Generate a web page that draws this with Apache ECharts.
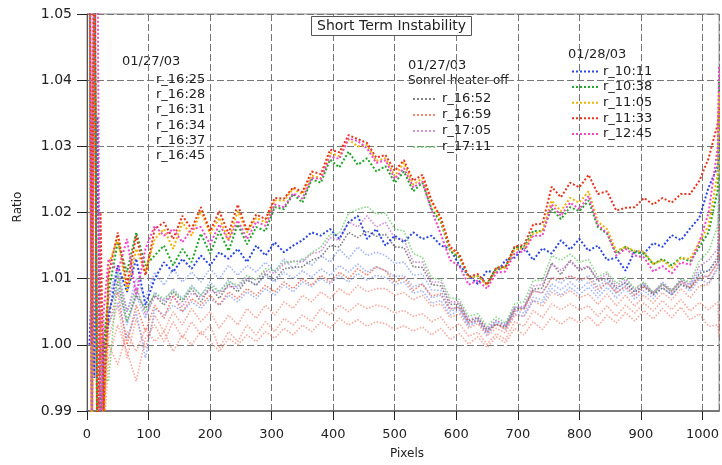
<!DOCTYPE html>
<html><head><meta charset="utf-8">
<script src="https://cdn.jsdelivr.net/npm/echarts@6/dist/echarts.min.js"></script>
<style>html,body{margin:0;padding:0;background:#fff}#c{width:722px;height:465px}</style>
</head><body><div id="c"></div>
<script>
const PIXELS = [4,8,12,17,22,27,35,50,65,80,95,110,125,140,155,170,185,200,215,230,245,260,275,290,305,320,335,350,365,380,395,410,425,440,455,470,485,500,515,530,545,560,575,590,605,620,635,650,665,680,695,710,725,740,755,770,785,800,815,830,845,860,875,890,905,920,935,950,965,980,995,1010,1025,1027];
const X_TICKS = [0,100,200,300,400,500,600,700,800,900,1000];
const Y_TICKS = ['0.99','1.00','1.01','1.02','1.03','1.04','1.05'];

// 01/27/03
const r_16_25 = [1.07,0.975,1.06,0.98,0.995,0.99, 1.001,1.006,0.998,1.004,0.9995,1.0045,1.002,1.005,1.003,1.0055,1.0035,1.005,1.0025,1.0045,1.003,1.0055,1.004,1.006,1.0045,1.0065,1.0055,1.0075,1.0065,1.008,1.007,1.0085,1.0075,1.009,1.008,1.0085,1.0085,1.0075,1.0079,1.0068,1.0075,1.0058,1.0062,1.0041,1.0047,1.0025,1.0032,1.0013,1.0025,1.0018,1.0045,1.0043,1.0067,1.0058,1.0079,1.0073,1.0082,1.0071,1.0077,1.0061,1.0077,1.0059,1.0075,1.0058,1.0075,1.0063,1.0079,1.0068,1.0085,1.0071,1.0089,1.0091,1.012,1.014];
const r_16_28 = [1.06,0.985,1.065,0.98,1.0,0.995, 1.007,1.012,1.005,1.010,1.007,1.011,1.009,1.0115,1.0095,1.011,1.0095,1.0115,1.010,1.012,1.0105,1.012,1.011,1.0125,1.011,1.013,1.0115,1.013,1.012,1.0135,1.0125,1.0145,1.013,1.0148,1.0135,1.014,1.0135,1.0123,1.0125,1.0105,1.0107,1.0083,1.0082,1.0055,1.0057,1.0033,1.0039,1.0021,1.0037,1.0031,1.0057,1.0055,1.0082,1.0078,1.0102,1.0093,1.0105,1.0095,1.0105,1.0088,1.0099,1.0083,1.0095,1.0079,1.0092,1.0079,1.0095,1.0083,1.01,1.0091,1.0112,1.0111,1.0135,1.016];
const r_16_31 = [1.06,0.98,1.07,0.975,1.005,0.985, 0.998,1.003,0.999,0.9945,1.001,1.003,1.0005,1.0035,1.001,1.0035,1.0015,1.003,0.9995,1.002,1.0005,1.003,1.0015,1.0035,1.002,1.004,1.003,1.0045,1.0035,1.0055,1.0045,1.006,1.005,1.0062,1.0055,1.006,1.0057,1.0048,1.0052,1.0043,1.0047,1.0035,1.0042,1.0023,1.0032,1.0013,1.0019,1.0001,1.0017,1.0008,1.0035,1.0028,1.0052,1.0041,1.0062,1.0053,1.0062,1.0053,1.0059,1.0043,1.0059,1.0043,1.006,1.0048,1.0063,1.0051,1.0067,1.0053,1.0069,1.0051,1.0064,1.0053,1.0065,1.002];
const r_16_34 = [1.065,0.98,1.06,0.985,0.99,1.0, 1.005,1.0085,1.003,1.0075,1.004,1.008,1.0065,1.0085,1.007,1.009,1.0075,1.0095,1.008,1.0098,1.0085,1.010,1.009,1.0105,1.0095,1.011,1.010,1.0112,1.0102,1.0115,1.0105,1.012,1.011,1.0122,1.011,1.0118,1.0112,1.0103,1.0105,1.0088,1.0092,1.0071,1.0075,1.0051,1.0055,1.0031,1.0037,1.0018,1.0035,1.0028,1.0052,1.0048,1.0072,1.0068,1.0092,1.0083,1.0095,1.0083,1.0095,1.0078,1.0095,1.0078,1.009,1.0075,1.0087,1.0075,1.0092,1.0081,1.0097,1.0085,1.0105,1.0103,1.0125,1.015];
const r_16_37 = [1.065,0.99,1.06,0.97,0.99,1.0, 1.0,0.997,1.002,0.999,1.0025,1.0005,1.002,0.999,1.0015,1.0,1.002,1.0005,0.999,1.001,1.0,1.0015,1.0005,1.002,1.001,1.0025,1.0015,1.003,1.002,1.0035,1.0025,1.004,1.003,1.0038,1.0028,1.0035,1.0032,1.0023,1.0029,1.0021,1.0027,1.0015,1.0025,1.0008,1.0017,1.0001,1.0012,0.9996,1.0012,1.0003,1.0025,1.0015,1.0035,1.0023,1.0042,1.0031,1.0042,1.0033,1.0043,1.0028,1.0045,1.0033,1.0049,1.0036,1.0052,1.0039,1.0055,1.0041,1.0057,1.0038,1.0047,1.0028,1.003,1.001];
const r_16_45 = [1.06,0.985,1.065,0.98,0.985,0.995, 1.003,1.0065,1.001,1.005,0.998,1.0055,1.0045,1.006,1.005,1.0065,1.0055,1.007,1.006,1.0075,1.0065,1.008,1.007,1.0085,1.0075,1.009,1.008,1.0095,1.0088,1.010,1.0092,1.0105,1.0095,1.0108,1.0098,1.0105,1.0102,1.0091,1.0095,1.0078,1.0082,1.0063,1.0067,1.0045,1.0052,1.0028,1.0035,1.0015,1.0032,1.0023,1.0047,1.0043,1.0067,1.0063,1.0085,1.0075,1.0087,1.0076,1.0087,1.0071,1.0087,1.0071,1.0085,1.0069,1.0082,1.007,1.0087,1.0075,1.0092,1.0081,1.0099,1.0093,1.0115,1.013];

// 01/27/03 Sonrel heater off
const r_16_52 = [1.06,1.0,1.065,0.985,1.0,0.992, 1.005,1.0095,1.0035,1.0075,1.0055,1.0075,1.006,1.008,1.0065,1.0085,1.0065,1.0088,1.007,1.0092,1.008,1.0098,1.009,1.0108,1.0098,1.0115,1.0117,1.0118,1.0128,1.0133,1.015,1.0148,1.017,1.0162,1.0172,1.0164,1.0167,1.0148,1.0147,1.0118,1.0117,1.0091,1.0089,1.0061,1.0062,1.0036,1.0041,1.0023,1.0031,1.0027,1.0054,1.0056,1.0084,1.0086,1.0124,1.0106,1.0128,1.0112,1.0118,1.0096,1.0101,1.0086,1.0094,1.008,1.0089,1.0076,1.0086,1.0076,1.0091,1.0086,1.0108,1.0112,1.013,1.022];
const r_16_59 = [1.07,0.99,1.06,0.98,1.005,0.99, 1.003,1.008,1.0,1.006,1.002,1.006,1.004,1.0075,1.005,1.007,1.006,1.0075,1.006,1.008,1.007,1.0085,1.0075,1.009,1.008,1.0095,1.0085,1.010,1.009,1.0105,1.0095,1.011,1.010,1.0115,1.0105,1.0118,1.0112,1.0094,1.0102,1.0082,1.0092,1.0074,1.0077,1.0054,1.0057,1.0034,1.0036,1.0019,1.0031,1.0024,1.0051,1.0054,1.0081,1.0079,1.0101,1.0099,1.0104,1.0099,1.0101,1.0084,1.0094,1.0079,1.0088,1.0074,1.0088,1.0079,1.0091,1.0082,1.0096,1.0086,1.0101,1.0104,1.0125,1.018];
const r_17_05 = [1.065,0.995,1.07,0.98,0.99,1.0, 1.007,1.0105,1.005,1.0088,1.0045,1.0072,1.0068,1.0072,1.0058,1.0078,1.0072,1.0082,1.0078,1.0088,1.0088,1.0102,1.0098,1.0112,1.0108,1.0122,1.0127,1.0125,1.0138,1.0141,1.0162,1.0158,1.0186,1.0178,1.0195,1.0178,1.0185,1.0161,1.0159,1.0125,1.0125,1.0095,1.0095,1.0065,1.0065,1.0038,1.0042,1.0025,1.0037,1.0029,1.0057,1.0058,1.0089,1.0091,1.0122,1.0113,1.0125,1.0115,1.0119,1.0098,1.0107,1.0089,1.0099,1.0083,1.0094,1.0078,1.0092,1.0079,1.0097,1.0091,1.0119,1.0128,1.0145,1.024];
const r_17_11 = [1.06,0.985,1.065,0.98,0.975,0.995, 0.9945,1.011,1.0035,1.0085,1.005,1.0078,1.007,1.0082,1.0068,1.0088,1.0075,1.009,1.008,1.0095,1.009,1.0105,1.0098,1.0115,1.0112,1.0125,1.0125,1.0128,1.0139,1.0148,1.0167,1.0168,1.0199,1.0205,1.0209,1.0198,1.0199,1.0175,1.0172,1.0138,1.0132,1.0101,1.0099,1.0071,1.0069,1.0043,1.0047,1.0028,1.0042,1.0033,1.0062,1.0065,1.0097,1.0098,1.0135,1.0128,1.0137,1.0125,1.0129,1.0103,1.011,1.0093,1.0102,1.0085,1.0095,1.0079,1.0092,1.0081,1.0099,1.0095,1.0127,1.0141,1.018,1.028];

// 01/28/03
const r_10_11 = [1.0,1.01,0.995,1.0345,0.98,0.998, 1.004,1.012,1.008,1.013,1.006,1.010,1.0125,1.011,1.013,1.0115,1.0135,1.012,1.014,1.013,1.0145,1.0125,1.015,1.0135,1.0155,1.014,1.015,1.0158,1.017,1.0165,1.0175,1.016,1.0185,1.0195,1.016,1.0175,1.015,1.0165,1.0155,1.017,1.016,1.0165,1.015,1.0145,1.012,1.0105,1.0092,1.0112,1.0108,1.0128,1.0132,1.0148,1.0128,1.0146,1.0138,1.0158,1.0144,1.016,1.0142,1.015,1.0128,1.0132,1.0112,1.0142,1.0138,1.0154,1.0148,1.0166,1.0158,1.0176,1.0192,1.0238,1.027,1.031];
const r_10_38 = [1.06,0.98,1.07,0.975,0.985,1.0, 1.008,1.0155,1.011,1.017,1.012,1.0135,1.015,1.012,1.0145,1.0125,1.0168,1.0138,1.0172,1.0142,1.0182,1.0152,1.0178,1.0172,1.0208,1.0205,1.0228,1.0215,1.025,1.0245,1.028,1.0268,1.0292,1.0272,1.0282,1.0262,1.027,1.0245,1.0262,1.0232,1.0245,1.0205,1.0185,1.0142,1.0132,1.0102,1.0104,1.0092,1.0116,1.0118,1.0148,1.0148,1.0172,1.0172,1.0206,1.019,1.0208,1.0202,1.0218,1.0178,1.0168,1.0138,1.0148,1.014,1.0138,1.0122,1.013,1.012,1.0132,1.0126,1.0148,1.017,1.0235,1.04];
const r_11_05 = [1.07,0.97,1.06,0.98,1.01,0.985, 1.012,1.016,1.008,1.0145,1.011,1.016,1.0175,1.0145,1.0185,1.0165,1.0202,1.0168,1.0192,1.0158,1.0202,1.017,1.0192,1.0185,1.0218,1.0218,1.0236,1.0228,1.0256,1.0252,1.029,1.0285,1.031,1.03,1.0302,1.0278,1.0282,1.0255,1.0275,1.0242,1.0252,1.0215,1.0188,1.0145,1.0135,1.0102,1.0104,1.009,1.0114,1.0116,1.0144,1.0146,1.0168,1.0172,1.0218,1.0202,1.0222,1.0215,1.0232,1.0186,1.0175,1.0142,1.0148,1.0142,1.0141,1.0122,1.0128,1.0116,1.0131,1.013,1.0156,1.018,1.026,1.038];
const r_11_33 = [1.07,1.0,1.08,0.97,1.02,0.99, 1.0105,1.017,1.009,1.0165,1.0105,1.0175,1.0185,1.016,1.0195,1.0175,1.0208,1.0172,1.0202,1.0168,1.0212,1.0172,1.0197,1.019,1.0222,1.0221,1.0238,1.0231,1.0262,1.0258,1.0295,1.0291,1.0317,1.0311,1.0305,1.0283,1.0287,1.0263,1.0279,1.0248,1.0257,1.0218,1.0192,1.0148,1.0137,1.0103,1.0107,1.0091,1.0117,1.0118,1.0149,1.0151,1.0182,1.0183,1.0239,1.0223,1.0245,1.0238,1.0257,1.0228,1.0232,1.0203,1.0207,1.0208,1.0222,1.0212,1.0222,1.0215,1.0228,1.0228,1.0248,1.0282,1.0335,1.036];
const r_12_45 = [1.08,0.99,1.07,1.06,0.98,1.005, 1.013,1.011,1.016,1.0075,1.0145,1.018,1.0165,1.0175,1.0155,1.0175,1.0178,1.0152,1.0182,1.0158,1.0188,1.016,1.0186,1.018,1.0212,1.0208,1.0229,1.0221,1.0252,1.0251,1.0285,1.0281,1.0312,1.0308,1.0297,1.0275,1.0279,1.0251,1.0267,1.0238,1.0247,1.0203,1.0167,1.0128,1.0119,1.0091,1.0097,1.0085,1.0109,1.0111,1.0139,1.0141,1.0165,1.0165,1.0212,1.0195,1.0215,1.0205,1.0225,1.0181,1.0169,1.0135,1.0145,1.0135,1.0132,1.0111,1.0119,1.0108,1.0125,1.0121,1.0155,1.02,1.030,1.042];

const FONT = 'DejaVu Sans';
const LB = 'rgba(95,125,240,0.55)';
const SAL = 'rgba(240,105,85,0.55)';
const seriesDefs = [
  ['r_16:25', r_16_25, SAL, 1.6],
  ['r_16:28', r_16_28, LB, 1.6],
  ['r_16:31', r_16_31, SAL, 1.6],
  ['r_16:34', r_16_34, LB, 1.6],
  ['r_16:37', r_16_37, SAL, 1.6],
  ['r_16:45', r_16_45, LB, 1.6],
  ['r_16:52', r_16_52, 'rgba(90,90,90,0.75)', 1.6],
  ['r_16:59', r_16_59, 'rgba(240,95,70,0.75)', 1.6],
  ['r_17:05', r_17_05, 'rgba(200,110,200,0.75)', 1.6],
  ['r_17:11', r_17_11, 'rgba(100,205,100,0.75)', 1.6],
  ['r_10:11', r_10_11, '#2b46e6', 2],
  ['r_10:38', r_10_38, '#22a52a', 2],
  ['r_11:05', r_11_05, '#f0b400', 2],
  ['r_11:33', r_11_33, '#e8341c', 2],
  ['r_12:45', r_12_45, '#f046c8', 2]
];
const series = seriesDefs.map(([name, ys, color, w]) => ({
  name, type: 'line', symbol: 'none', clip: true, animation: false,
  data: PIXELS.map((x, i) => [x, ys[i]]),
  itemStyle: { color },
  lineStyle: { color, width: w, type: 'dotted' }
}));

const txt = { fontFamily: FONT, fontSize: 13, color: '#222', lineHeight: 14 };
const chart = echarts.init(document.getElementById('c'), null, { renderer: 'canvas' });
chart.setOption({
  animation: false,
  backgroundColor: '#fff',
  title: {
    text: 'Short Term Instability', left: 311, top: 16,
    padding: [3, 6], borderWidth: 1, borderColor: '#555', backgroundColor: '#fff',
    textStyle: { fontFamily: FONT, fontSize: 14, fontWeight: 'normal', color: '#222' }
  },
  grid: { left: 87, right: 1, top: 14, bottom: 52, show: true, borderColor: '#888', borderWidth: 1 },
  xAxis: {
    type: 'value', min: 0, max: 1027, interval: 100,
    name: 'Pixels', nameLocation: 'middle', nameGap: 37,
    nameTextStyle: { fontFamily: FONT, fontSize: 12, color: '#222', padding: [0, 0, 0, 8] },
    axisLine: { show: true, lineStyle: { color: '#777', width: 2 } },
    axisTick: { show: true, length: 9, lineStyle: { color: '#222' } },
    axisLabel: { fontFamily: FONT, fontSize: 13, color: '#222', margin: 17, showMaxLabel: false,
      formatter: v => X_TICKS.includes(v) ? String(v) : '' },
    splitLine: { show: true, lineStyle: { color: '#777', type: [7, 3], width: 1 } }
  },
  yAxis: {
    type: 'value', min: 0.99, max: 1.05, interval: 0.01,
    axisLine: { show: true, lineStyle: { color: '#555' } },
    axisTick: { show: true, length: 10, lineStyle: { color: '#222' } },
    axisLabel: { fontFamily: FONT, fontSize: 14, color: '#222', margin: 15,
      formatter: v => Y_TICKS.find(t => Math.abs(parseFloat(t) - v) < 1e-6) || '' },
    splitLine: { show: true, lineStyle: { color: '#777', type: [7, 3], width: 1 } }
  },
  legend: [
    {
      orient: 'vertical', left: 125, top: 72.5, padding: 0, itemWidth: 25, itemHeight: 14, itemGap: 1.3,
      textStyle: txt, selectedMode: false,
      data: ['r_16:25','r_16:28','r_16:31','r_16:34','r_16:37','r_16:45'].map(n => ({ name: n, itemStyle: { opacity: 0 }, lineStyle: { opacity: 0 } }))
    },
    {
      orient: 'vertical', left: 412, top: 92, padding: 0, itemWidth: 24, itemHeight: 14, itemGap: 2,
      textStyle: txt, selectedMode: false, itemStyle: { opacity: 0 },
      data: ['r_16:52','r_16:59','r_17:05','r_17:11']
    },
    {
      orient: 'vertical', left: 571, top: 64.5, padding: 0, itemWidth: 26, itemHeight: 14, itemGap: 1.6,
      textStyle: txt, selectedMode: false, itemStyle: { opacity: 0 },
      data: ['r_10:11','r_10:38','r_11:05','r_11:33','r_12:45']
    }
  ],
  graphic: [
    { type: 'text', x: 18, y: 207, rotation: Math.PI / 2, style: { text: 'Ratio', font: '12px "DejaVu Sans"', fill: '#222', align: 'center', verticalAlign: 'middle' } },
    { type: 'text', left: 122, top: 55, style: { text: '01/27/03', font: '13px "DejaVu Sans"', fill: '#222' } },
    { type: 'text', left: 408, top: 59, style: { text: '01/27/03', font: '13px "DejaVu Sans"', fill: '#222' } },
    { type: 'text', left: 408, top: 75, style: { text: 'Sonrel heater off', font: '12px "DejaVu Sans"', fill: '#222' } },
    { type: 'text', left: 568, top: 48, style: { text: '01/28/03', font: '13px "DejaVu Sans"', fill: '#222' } }
  ],
  series
});
</script></body></html>
